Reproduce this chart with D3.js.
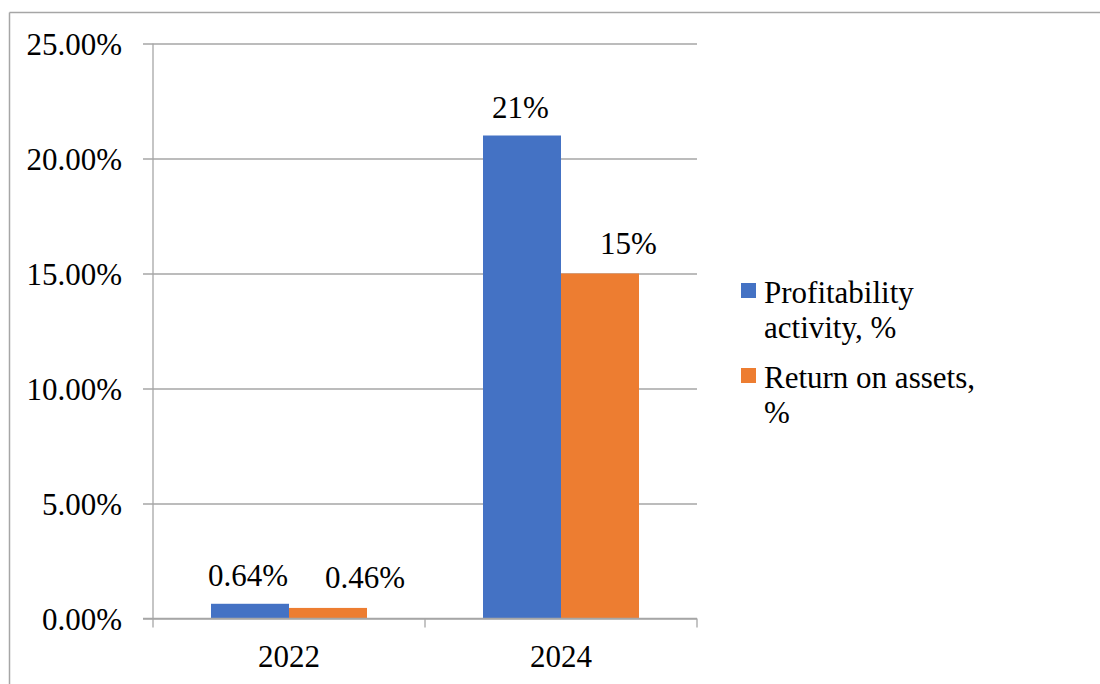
<!DOCTYPE html>
<html>
<head>
<meta charset="utf-8">
<script src="https://cdn.jsdelivr.net/npm/d3@7"></script>
<style>
  html, body { margin: 0; padding: 0; background: #fff; }
</style>
</head>
<body>
<svg id="fig" width="1100" height="684" style="display:block"></svg>
<script>
// Chart data
const years = ["2022", "2024"];
const seriesNames = ["Profitability activity, %", "Return on assets, %"];
const profitability = [0.64, 21];
const returnOnAssets = [0.46, 15];
const valueLabels = [["0.64%", "21%"], ["0.46%", "15%"]];
const yTicks = [0, 5, 10, 15, 20, 25];
const legendLines = [["Profitability", "activity, %"], ["Return on assets,", "%"]];
const colors = ["#4472C4", "#ED7D31"];

const series = [profitability, returnOnAssets];

const svg = d3.select("#fig");
const grid = "#a6a6a6";
const fontSize = 31;

// Serif face for every label
const typeset = sel => sel
  .style("font-family", "\"Liberation Serif\", \"Times New Roman\", serif", "important")
  .style("font-size", fontSize + "px", "important")
  .attr("fill", "#000");

// Frame lines around the figure
svg.append("line").attr("x1", 9.5).attr("x2", 1100).attr("y1", 12.5).attr("y2", 12.5)
  .attr("stroke", grid).attr("stroke-width", 1.5);
svg.append("line").attr("x1", 9.5).attr("x2", 9.5).attr("y1", 12.5).attr("y2", 684)
  .attr("stroke", grid).attr("stroke-width", 1.5);

const plot = { left: 153, right: 697, top: 43.5, bottom: 618.5 };

const x = d3.scaleBand().domain(years).range([plot.left, plot.right]).paddingInner(0).paddingOuter(0);
const inner = d3.scaleBand().domain(d3.range(series.length)).range([0, x.bandwidth()]).paddingOuter(0.7436).paddingInner(0);
const y = d3.scaleLinear().domain([0, 25]).range([plot.bottom, plot.top]);

// Horizontal gridlines with left tick stubs
const yAxis = d3.axisLeft(y).tickValues(yTicks).tickSize(10).tickFormat(d => d3.format(".2f")(d) + "%");
const gy = svg.append("g").attr("transform", `translate(${plot.left},0)`).call(yAxis);
gy.attr("font-family", null).attr("font-size", null);
gy.select(".domain").remove();
gy.selectAll(".tick line").attr("stroke", grid).attr("stroke-width", 1.3).attr("x2", plot.right - plot.left).attr("x1", -10);
gy.selectAll(".tick text").attr("x", -31).attr("dy", "0.34em").call(typeset);

// Vertical axis line
svg.append("line").attr("x1", plot.left).attr("x2", plot.left).attr("y1", plot.top).attr("y2", plot.bottom)
  .attr("stroke", grid).attr("stroke-width", 1.3);

// Value labels of the second series sit slightly to the right of their bars
const labelShift = [[-2, -1.5], [37, 28.5]];
const labelGap = [17.5, 20];

// Bars and their value labels
series.forEach((vals, si) => {
  svg.append("g").selectAll("rect").data(years).join("rect")
    .attr("x", (d) => x(d) + inner(si))
    .attr("width", inner.bandwidth())
    .attr("y", (d, i) => y(vals[i]))
    .attr("height", (d, i) => y(0) - y(vals[i]))
    .attr("fill", colors[si]);
  svg.append("g").selectAll("text").data(years).join("text")
    .attr("x", (d, i) => x(d) + inner(si) + inner.bandwidth() / 2 + labelShift[si][i])
    .attr("y", (d, i) => y(vals[i]) - labelGap[si])
    .attr("text-anchor", "middle")
    .call(typeset)
    .text((d, i) => valueLabels[si][i]);
});

// Category axis
const xAxis = d3.axisBottom(x).tickSize(0).tickSizeOuter(0);
const gx = svg.append("g").attr("transform", `translate(0,${plot.bottom})`).call(xAxis);
gx.attr("font-family", null).attr("font-size", null);
gx.select(".domain").remove();
gx.selectAll(".tick text").attr("y", 0).attr("dy", 0).attr("transform", "translate(0,48)").call(typeset);
svg.append("line").attr("x1", plot.left - 10).attr("x2", plot.right).attr("y1", plot.bottom).attr("y2", plot.bottom)
  .attr("stroke", grid).attr("stroke-width", 1.3);
[plot.left, ...years.map(d => x(d) + x.bandwidth())].forEach(px => {
  svg.append("line").attr("x1", px).attr("x2", px).attr("y1", plot.bottom).attr("y2", plot.bottom + 9)
    .attr("stroke", grid).attr("stroke-width", 1.3);
});

// Legend
const legendTop = [303, 388];
seriesNames.forEach((name, si) => {
  const g = svg.append("g");
  g.append("rect").attr("x", 741).attr("y", legendTop[si] - 20).attr("width", 15).attr("height", 15).attr("fill", colors[si]);
  const t = g.append("text").attr("x", 764).attr("y", legendTop[si]).call(typeset);
  legendLines[si].forEach((ln, li) => {
    t.append("tspan").attr("x", 764).attr("dy", li === 0 ? 0 : 35).text(ln);
  });
});
</script>
</body>
</html>
